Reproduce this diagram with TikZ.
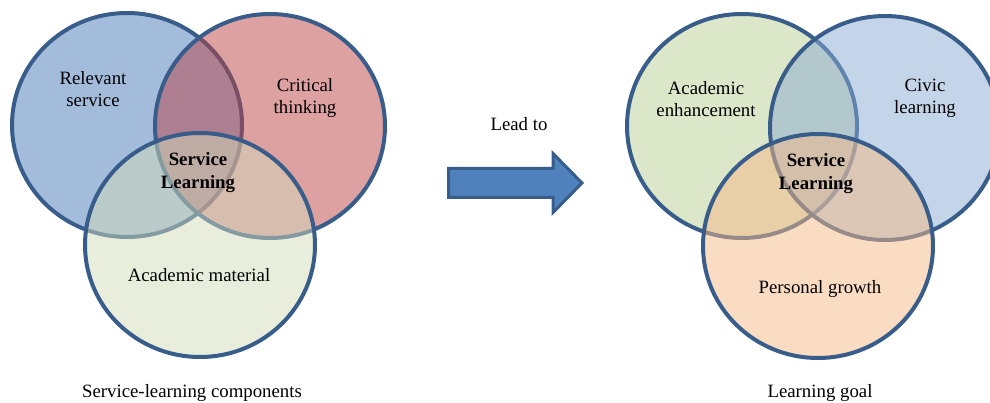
\documentclass[tikz,border=0pt]{standalone}
\usepackage{fontspec}
\setmainfont{Liberation Serif}

\definecolor{rimblue}{RGB}{56,93,138}
\definecolor{serviceblue}{RGB}{71,121,185}
\definecolor{thinkred}{RGB}{187,67,69}
\definecolor{materialgreen}{RGB}{209,219,185}
\definecolor{enhancegreen}{RGB}{185,205,145}
\definecolor{civicblue}{RGB}{139,171,211}
\definecolor{growthorange}{RGB}{245,185,135}
\definecolor{arrowblue}{RGB}{79,129,189}

\begin{document}
\begin{tikzpicture}[
            x = 1pt, y = -1pt, % pixel grid, y runs down
            every node/.style = {font=\fontsize{18.8}{22}\selectfont, align=center, inner sep=0pt},
            venn/.style = {draw=rimblue, line width=4pt, fill opacity=0.5} % see-through circle
        ]

        \tikzstyle{core}=[font=\fontsize{18.8}{23}\selectfont\bfseries]

        \useasboundingbox (0,0) rectangle (990,403);

        % left: components
        \draw[venn, fill=serviceblue]   (127,125) ellipse [x radius=115pt, y radius=112pt];
        \draw[venn, fill=thinkred]      (270,126) ellipse [x radius=115pt, y radius=112pt];
        \draw[venn, fill=materialgreen] (200,245) ellipse [x radius=115pt, y radius=112pt];

        \node (relevant) at (93,89)  {Relevant\\service};
        \node (critical) at (305,98) {Critical\\thinking};
        \node[core] (sl1) at (198,173) {Service\\Learning};
        \node[anchor=base] (material) at (199,282) {Academic material};
        \node[anchor=base] (comp) at (192,397) {Service-learning components};

        % middle: block arrow
        \node[anchor=base] (lead) at (519,131) {Lead to};
        \draw[draw=rimblue, line width=3pt, fill=arrowblue, line join=miter]
            (448.5,168.5) -- (553,168.5) -- (553,153.5) -- (582,183)
            -- (553,212.5) -- (553,197.5) -- (448.5,197.5) -- cycle;

        % right: goals
        \draw[venn, fill=enhancegreen] (742,126) ellipse [x radius=115pt, y radius=112pt];
        \draw[venn, fill=civicblue]    (885,128) ellipse [x radius=115pt, y radius=112pt];
        \draw[venn, fill=growthorange] (818,246) ellipse [x radius=115pt, y radius=112pt];

        \node (enhance) at (706,99) {Academic\\enhancement};
        \node (civic) at (925,98) {Civic\\learning};
        \node[core] (sl2) at (816,174) {Service\\Learning};
        \node[anchor=base] (growth) at (820,293) {Personal growth};
        \node[anchor=base] (goal) at (820,397) {Learning goal};
    \end{tikzpicture}
\end{document}
